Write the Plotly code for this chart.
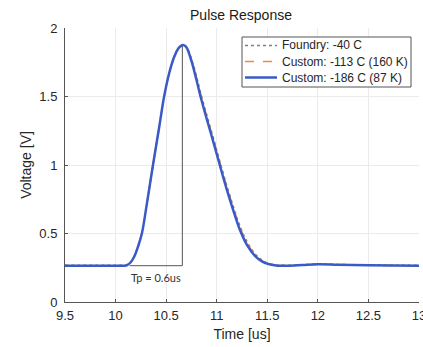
import plotly.graph_objects as go

# Data (time in us, voltage in V)
t = [9.5, 10.0, 10.08, 10.11, 10.15, 10.19, 10.22, 10.26, 10.31, 10.37, 10.43, 10.48, 10.53, 10.58,
     10.62, 10.65, 10.67, 10.7, 10.75, 10.8, 10.84, 10.9, 10.97, 11.03, 11.1, 11.17, 11.23, 11.3,
     11.38, 11.45, 11.52, 11.6, 11.7, 11.85, 12.0, 12.2, 12.5, 13.0]
v_blue = [0.265, 0.265, 0.265, 0.268, 0.29, 0.34, 0.40, 0.5, 0.72, 1.0, 1.27, 1.5, 1.67, 1.79,
          1.85, 1.872, 1.875, 1.86, 1.76, 1.62, 1.5, 1.34, 1.16, 1.0, 0.82, 0.655, 0.525, 0.415,
          0.335, 0.295, 0.275, 0.265, 0.265, 0.27, 0.275, 0.272, 0.268, 0.265]
v_orange = [0.265, 0.265, 0.265, 0.268, 0.29, 0.34, 0.40, 0.5, 0.72, 1.0, 1.27, 1.5, 1.67, 1.79,
            1.85, 1.872, 1.875, 1.862, 1.77, 1.64, 1.52, 1.36, 1.18, 1.02, 0.84, 0.675, 0.545, 0.43,
            0.345, 0.30, 0.278, 0.267, 0.266, 0.27, 0.275, 0.272, 0.268, 0.265]
v_foundry = [0.268, 0.268, 0.268, 0.27, 0.29, 0.34, 0.40, 0.5, 0.72, 1.0, 1.27, 1.5, 1.67, 1.79,
             1.85, 1.872, 1.875, 1.864, 1.775, 1.65, 1.53, 1.37, 1.19, 1.03, 0.85, 0.685, 0.555, 0.44,
             0.35, 0.305, 0.28, 0.269, 0.268, 0.272, 0.277, 0.274, 0.27, 0.268]
names = ["Foundry: -40 C", "Custom: -113 C (160 K)", "Custom: -186 C (87 K)"]
tp_x = [10.14, 10.66]
tp_base = 0.265
tp_peak = 1.873
tp_label = "Tp = 0.6us"

txt = "#262626"
colors = ["#7f7f7f", "#EE8A3C", "#3A5BC7"]
dashes = ["dot", "dash", "solid"]
widths = [1.5, 1.5, 2.5]

# plot area in pixels (for the hand-drawn legend box)
L, R, T, B = 65, 419, 28, 302
def px(xp):
    return (xp - L) / (R - L)
def py(yp):
    return (B - yp) / (B - T)

fig = go.Figure()
for vals, n, c, d, w in zip([v_foundry, v_orange, v_blue], names, colors, dashes, widths):
    fig.add_trace(go.Scatter(x=t, y=vals, name=n, mode="lines", line_shape="spline",
                             line=dict(color=c, width=w, dash=d), showlegend=False))
# Tp marker lines
fig.add_trace(go.Scatter(x=[tp_x[0], tp_x[1], tp_x[1]], y=[tp_base, tp_base, tp_peak],
                         mode="lines", line=dict(color="#555555", width=1), showlegend=False,
                         hoverinfo="skip"))
fig.add_annotation(x=10.40, y=0.18, text=tp_label, showarrow=False,
                   font=dict(family="Lato, Carlito, sans-serif", size=11, color="#333333"))

# legend (compact, MATLAB-like)
shapes = [dict(type="rect", xref="paper", yref="paper", x0=px(242), x1=px(411), y0=py(87), y1=py(37),
               line=dict(color="#555555", width=1), fillcolor="white", layer="above")]
rows = [45.5, 61.5, 77.5]
annotations = []
for r, n, c, d, w in zip(rows, names, colors, dashes, widths):
    shapes.append(dict(type="line", xref="paper", yref="paper", x0=px(245), x1=px(277),
                       y0=py(r), y1=py(r), line=dict(color=c, width=w, dash=d), layer="above"))
    annotations.append(dict(xref="paper", yref="paper", x=px(280), y=py(r), text=n,
                            showarrow=False, xanchor="left", yanchor="middle",
                            font=dict(size=12, color=txt)))

fig.update_layout(
    width=423, height=347,
    margin=dict(l=L, r=423 - R, t=T, b=347 - B, autoexpand=False),
    paper_bgcolor="white", plot_bgcolor="white",
    font=dict(family="Liberation Sans, Arial, sans-serif", size=12, color=txt),
    title=dict(text="Pulse Response", x=241 / 423, xanchor="center", y=1 - 15 / 347, yanchor="middle",
               font=dict(size=14, color="#1a1a1a")),
    shapes=shapes,
    xaxis=dict(range=[9.5, 13], tickvals=[9.5, 10, 10.5, 11, 11.5, 12, 12.5, 13],
               ticktext=["9.5", "10", "10.5", "11", "11.5", "12", "12.5", "13"],
               showgrid=True, gridcolor="#ebebeb", gridwidth=1, zeroline=False,
               showline=True, linecolor="#555555", linewidth=1,
               ticks="inside", ticklen=3, tickcolor="#555555",
               ticklabeloverflow="allow", ticklabelstandoff=1,
               tickfont=dict(size=13, color=txt),
               title=dict(text="Time [us]", font=dict(size=14, color=txt), standoff=7)),
    yaxis=dict(range=[0, 2], tickvals=[0, 0.5, 1, 1.5, 2],
               ticktext=["0", "0.5", "1", "1.5", "2"],
               showgrid=True, gridcolor="#ebebeb", gridwidth=1, zeroline=False,
               showline=True, linecolor="#555555", linewidth=1,
               ticks="inside", ticklen=3, tickcolor="#555555",
               ticklabelstandoff=4,
               tickfont=dict(size=13, color=txt),
               title=dict(text="Voltage [V]", font=dict(size=14, color=txt), standoff=4)),
)
for a in annotations:
    fig.add_annotation(**a)
fig.write_html("out.html")
